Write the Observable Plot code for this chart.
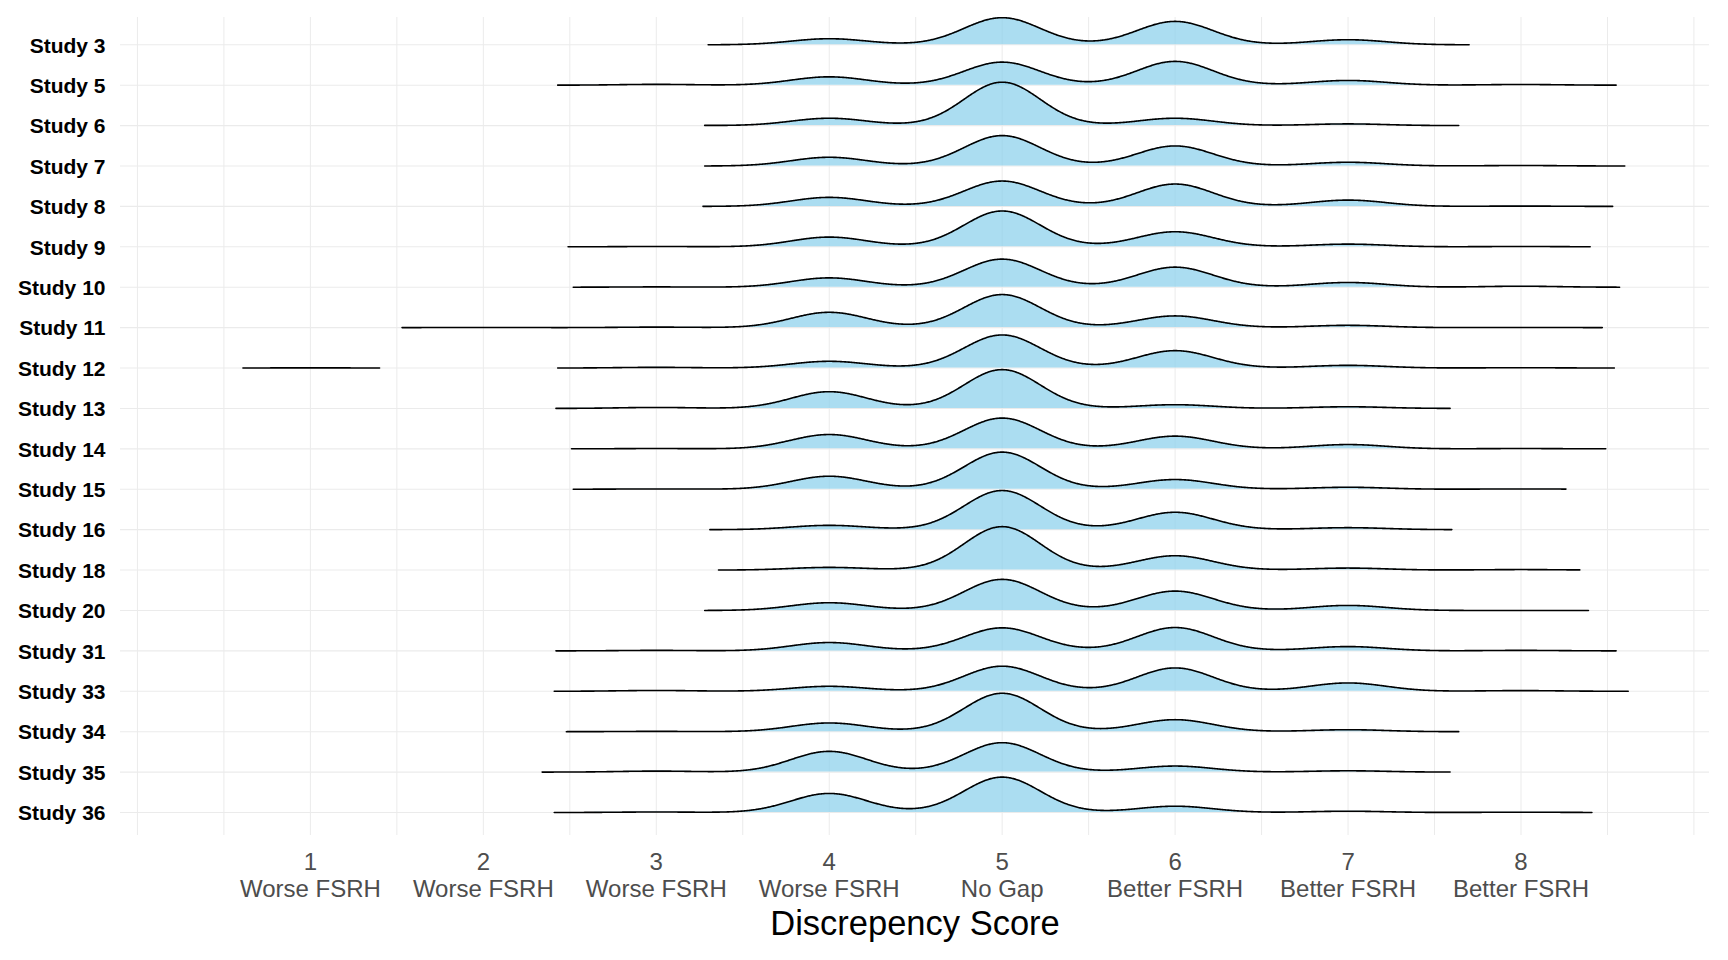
<!DOCTYPE html>
<html>
<head>
<meta charset="utf-8">
<script src="https://cdn.jsdelivr.net/npm/d3@7"></script>
<script src="https://cdn.jsdelivr.net/npm/@observablehq/plot@0.6"></script>
<style>
  html, body { margin: 0; padding: 0; background: #ffffff; }
  #chart svg { display: block; }
</style>
</head>
<body>
<div id="chart"></div>
<script>
// ---- data ----
const studies = ["Study 3","Study 5","Study 6","Study 7","Study 8","Study 9","Study 10",
  "Study 11","Study 12","Study 13","Study 14","Study 15","Study 16","Study 18",
  "Study 20","Study 31","Study 33","Study 34","Study 35","Study 36"];

const scores = [1, 2, 3, 4, 5, 6, 7, 8];
const scoreLabels = ["Worse FSRH","Worse FSRH","Worse FSRH","Worse FSRH",
  "No Gap","Better FSRH","Better FSRH","Better FSRH"];

// share (%) of respondents at discrepancy scores 1..8, per study
const shares = [
  [0,   0,   0,   9.7, 43.5, 37.5, 8.1,  0  ], // Study 3
  [0,   0,   1.3, 13.4,37.0, 38.2, 7.6,  1.1], // Study 5
  [0,   0,   0.5, 11.8,69.7, 11.8, 2.7,  0  ], // Study 6
  [0,   0,   0,   14.0,48.8, 32.2, 6.0,  0.8], // Study 7
  [0,   0,   0,   14.5,40.7, 35.9, 10.1, 0.5], // Study 8
  [0,   0,   0.5, 15.6,57.5, 24.2, 4.3,  0.5], // Study 9
  [0,   0,   0.5, 15.0,45.1, 32.2, 7.6,  1.6], // Study 10
  [0,   0.3, 0.8, 24.6,53.1, 18.8, 3.7,  0.3], // Study 11
  [0.3, 0,   1.1, 10.8,53.1, 27.9, 4.3,  0.5], // Study 12
  [0,   0,   1.6, 26.9,62.3, 6.0,  2.7,  0  ], // Study 13
  [0,   0,   0.5, 23.0,49.4, 20.4, 6.9,  0.5], // Study 14
  [0,   0,   0.5, 20.9,59.6, 15.6, 3.2,  0.5], // Study 15
  [0,   0,   0,   6.9, 62.8, 27.9, 3.2,  0  ], // Study 16
  [0,   0,   0,   4.3, 69.7, 23.0, 3.2,  0.8], // Study 18
  [0,   0,   0,   12.4,49.9, 31.1, 8.1,  0  ], // Study 20
  [0,   0,   0.8, 13.4,37.0, 37.5, 6.9,  0.8], // Study 31
  [0,   0,   1.3, 8.0, 40.3, 37.5, 13.4, 1.1], // Study 33
  [0,   0,   0.5, 14.0,61.7, 19.3, 3.2,  0  ], // Study 34
  [0,   0,   1.6, 33.3,47.2, 9.7,  2.1,  0  ], // Study 35
  [0,   0,   0.8, 30.6,56.8, 10.1, 2.1,  0.5]  // Study 36
];

// visible extent of each ridge (score units); Study 12 has a separate piece around 1
const ridgeStart = [3.30,2.43,3.28,3.28,3.27,2.49,2.52,1.53,2.43,2.42,2.51,2.52,3.31,3.36,3.28,2.42,2.41,2.48,2.34,2.41];
const ridgeEnd   = [7.70,8.55,7.64,8.60,8.53,8.40,8.57,8.47,8.54,7.59,8.49,8.26,7.60,8.34,8.39,8.55,8.62,7.64,7.59,8.41];
const extraPieces = [{study: "Study 12", start: 0.61, end: 1.40}];

const bandwidth = 0.22;

// ---- build density table ----
const n = studies.length;
const ridgeScale = 0.85;
function density(sh, x) {
  let s = 0;
  for (let k = 0; k < scores.length; k++) {
    if (!sh[k]) continue;
    const z = (x - scores[k]) / bandwidth;
    s += (sh[k] / 100) * Math.exp(-0.5 * z * z) / (bandwidth * Math.sqrt(2 * Math.PI));
  }
  return s;
}
const ridges = studies.map((name, i) => {
  const row = n - 1 - i;
  const pieces = [[ridgeStart[i], ridgeEnd[i]]];
  extraPieces.filter(p => p.study === name).forEach(p => pieces.push([p.start, p.end]));
  const pts = [];
  pieces.forEach(([a, b], j) => {
    const steps = Math.ceil((b - a) / 0.005);
    for (let s = 0; s <= steps; s++) {
      const x = a + (b - a) * s / steps;
      pts.push({study: name, piece: j, x, base: row, y: row + density(shares[i], x) * ridgeScale});
    }
  });
  return {name, row, pts};
});

const ridgeMarks = [];
ridges.forEach(r => {
  ridgeMarks.push(Plot.areaY(r.pts, {x: "x", y1: "base", y2: "y", z: "piece",
    fill: "#87CEEB", fillOpacity: 0.7, curve: "linear"}));
  ridgeMarks.push(Plot.lineY(r.pts, {x: "x", y: "y", z: "piece",
    stroke: "#000000", strokeWidth: 1.6, curve: "linear"}));
});

const rows = d3.range(n);
const chart = Plot.plot({
  width: 1728,
  height: 960,
  marginLeft: 120,
  marginRight: 19,
  marginTop: 17,
  marginBottom: 125,
  style: {fontFamily: "'Liberation Sans', Arial, sans-serif", background: "#ffffff"},
  x: {domain: [-0.098, 9.09]},
  y: {domain: [-0.569, 19.675]},
  marks: [
    Plot.ruleX(d3.range(0, 9.01, 0.5), {stroke: "#ebebeb", strokeWidth: 1}),
    Plot.ruleY(rows, {stroke: "#ebebeb", strokeWidth: 1.1}),
    ...ridgeMarks,
    Plot.axisY({ticks: rows, tickFormat: r => studies[n - 1 - r], tickSize: 0, tickPadding: 15,
      fontSize: 21, fontWeight: "bold", color: "#000000", label: null, dy: 1}),
    Plot.axisX({ticks: scores, tickFormat: (d, i) => `${d}\n${scoreLabels[scores.indexOf(d)]}`,
      tickSize: 0, tickPadding: 16, fontSize: 24, lineHeight: 1.1, color: "#4d4d4d", label: null}),
    Plot.text(["Discrepency Score"], {frameAnchor: "bottom", lineAnchor: "middle", dy: 88,
      fontSize: 34.5, fill: "#000000"})
  ]
});
document.getElementById("chart").appendChild(chart);
</script>
</body>
</html>
